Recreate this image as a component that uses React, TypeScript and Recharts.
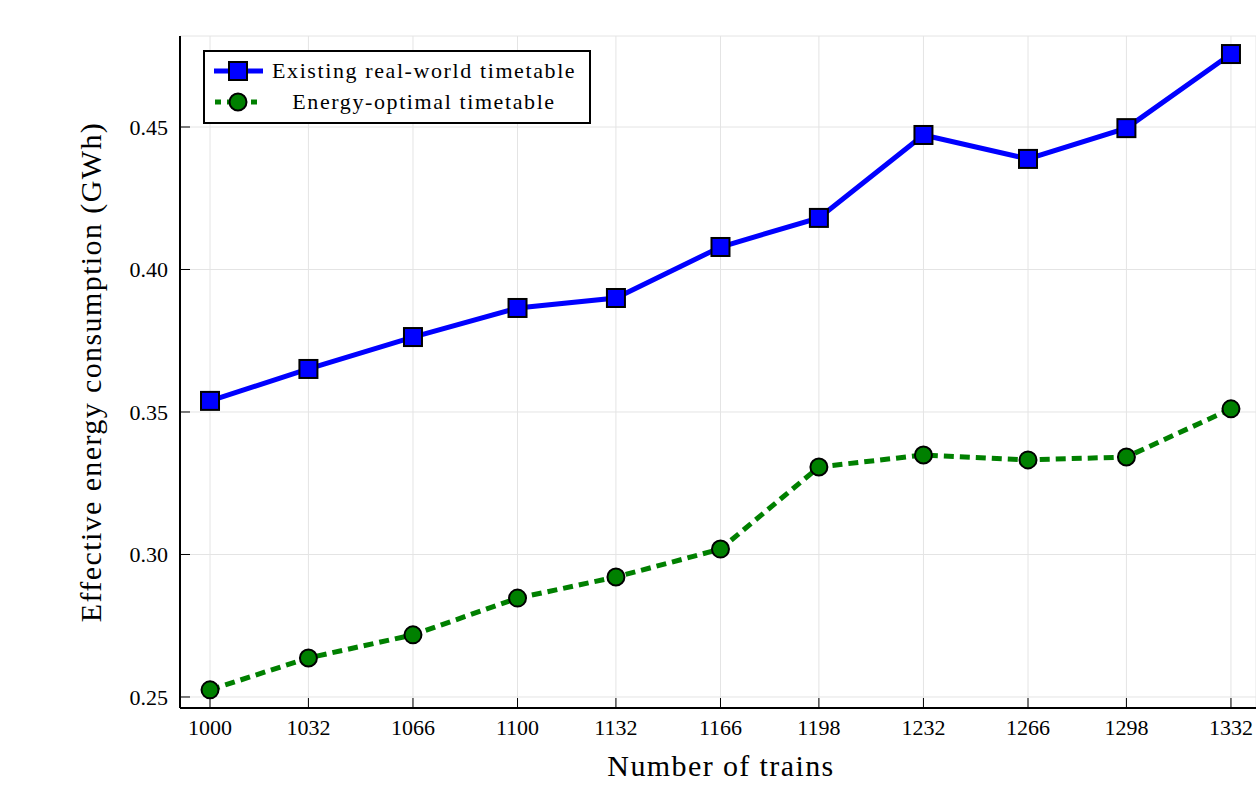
import React from 'react';
import { LineChart, Line, XAxis, YAxis, CartesianGrid, Legend, Label } from 'recharts';

const trains = [1000, 1032, 1066, 1100, 1132, 1166, 1198, 1232, 1266, 1298, 1332];
const existing = [0.3539, 0.3651, 0.3763, 0.3865, 0.39, 0.4079, 0.4181, 0.4472, 0.4388, 0.4496, 0.4756];
const optimal = [0.2525, 0.2637, 0.2718, 0.2847, 0.2921, 0.3019, 0.3307, 0.3349, 0.3332, 0.3342, 0.3511];
const yTicks = [0.25, 0.3, 0.35, 0.4, 0.45];
const seriesNames = ['Existing real-world timetable', 'Energy-optimal timetable'];
const xTitle = 'Number of trains';
const yTitle = 'Effective energy consumption (GWh)';

const data = trains.map((t, i) => ({ trains: t, existing: existing[i], optimal: optimal[i] }));

const FONT = "'Liberation Serif', 'Times New Roman', serif";
const BLUE = '#0000ff';
const GREEN = '#008000';

const XTick = (props: any) => {
  const { x, y, payload } = props;
  return (
    <g>
      <line x1={x} x2={x} y1={y} y2={y - 10} stroke="#000" strokeWidth={1} />
      <text x={x} y={y + 27} textAnchor="middle" fontFamily={FONT} fontSize={22} fill="#000">
        {payload.value}
      </text>
    </g>
  );
};

const YTick = (props: any) => {
  const { x, y, payload } = props;
  return (
    <g>
      <line x1={x} x2={x + 10} y1={y} y2={y} stroke="#000" strokeWidth={1} />
      <text x={x - 12} y={y + 8} textAnchor="end" fontFamily={FONT} fontSize={22} fill="#000">
        {Number(payload.value).toFixed(2)}
      </text>
    </g>
  );
};

const SquareDot = (props: any) => {
  const { cx, cy, index } = props;
  if (cx == null || cy == null) return <g key={`sq-${index}`} />;
  return (
    <rect key={`sq-${index}`} x={cx - 9} y={cy - 9} width={18} height={18} fill={BLUE} stroke="#000" strokeWidth={2} />
  );
};

const LegendBox = () => (
  <svg width={388} height={74} style={{ display: 'block' }}>
    <rect x={1} y={1} width={386} height={72} fill="#fff" stroke="#000" strokeWidth={2} />
    <line x1={11} x2={60} y1={21} y2={21} stroke={BLUE} strokeWidth={5} />
    <rect x={26} y={12} width={18} height={18} fill={BLUE} stroke="#000" strokeWidth={2} />
    <text x={69} y={28} fontFamily={FONT} fontSize={22} letterSpacing={1.6} fill="#000">
      {seriesNames[0]}
    </text>
    <line x1={12} x2={54} y1={52} y2={52} stroke={GREEN} strokeWidth={5} strokeDasharray="6 6" />
    <circle cx={35} cy={52} r={8.5} fill={GREEN} stroke="#000" strokeWidth={2} />
    <text x={221} y={59} textAnchor="middle" fontFamily={FONT} fontSize={22} letterSpacing={1.6} fill="#000">
      {seriesNames[1]}
    </text>
  </svg>
);

export default function App() {
  return (
    <div style={{ position: 'absolute', left: 0, top: 0, background: '#fff', fontFamily: FONT }}>
      <LineChart width={1256} height={786} data={data} margin={{ top: 36, right: 0, bottom: 0, left: 0 }}>
        <CartesianGrid stroke="#e4e4e4" strokeWidth={1} />
        <XAxis
          dataKey="trains"
          type="number"
          domain={[990.24, 1340.14]}
          ticks={trains}
          allowDataOverflow
          height={78}
          tickLine={false}
          tickSize={0}
          tickMargin={0}
          axisLine={{ stroke: '#000', strokeWidth: 2 }}
          tick={<XTick />}
          interval={0}
        >
          <Label
            content={(p: any) => {
              const vb = p.viewBox || {};
              return (
                <text
                  x={vb.x + vb.width / 2 + 3}
                  y={vb.y + 68}
                  textAnchor="middle"
                  fontFamily={FONT}
                  fontSize={30}
                  letterSpacing={1.4}
                  fill="#000"
                >
                  {xTitle}
                </text>
              );
            }}
          />
        </XAxis>
        <YAxis
          type="number"
          domain={[0.24614, 0.48193]}
          ticks={yTicks}
          allowDataOverflow
          width={180}
          tickLine={false}
          tickSize={0}
          tickMargin={0}
          axisLine={{ stroke: '#000', strokeWidth: 2 }}
          tick={<YTick />}
          interval={0}
        >
          <Label
            content={(p: any) => {
              const vb = p.viewBox || {};
              const cx = vb.x + 101;
              const cy = vb.y + vb.height / 2;
              return (
                <text
                  x={cx}
                  y={cy}
                  transform={`rotate(-90 ${cx} ${cy})`}
                  textAnchor="middle"
                  fontFamily={FONT}
                  fontSize={30}
                  letterSpacing={1.4}
                  fill="#000"
                >
                  {yTitle}
                </text>
              );
            }}
          />
        </YAxis>
        <Legend
          layout="vertical"
          align="center"
          verticalAlign="middle"
          wrapperStyle={{ top: 50, left: 203, width: 388, height: 74 }}
          content={() => <LegendBox />}
        />
        <Line
          type="linear"
          dataKey="existing"
          name={seriesNames[0]}
          stroke={BLUE}
          strokeWidth={5}
          dot={(p: any) => <SquareDot {...p} key={`sq-${p.index}`} />}
          activeDot={false}
          isAnimationActive={false}
        />
        <Line
          type="linear"
          dataKey="optimal"
          name={seriesNames[1]}
          stroke={GREEN}
          strokeWidth={5}
          strokeDasharray="10 6"
          dot={{ r: 8.5, fill: GREEN, stroke: '#000', strokeWidth: 2, strokeDasharray: '' }}
          activeDot={false}
          isAnimationActive={false}
        />
      </LineChart>
    </div>
  );
}
